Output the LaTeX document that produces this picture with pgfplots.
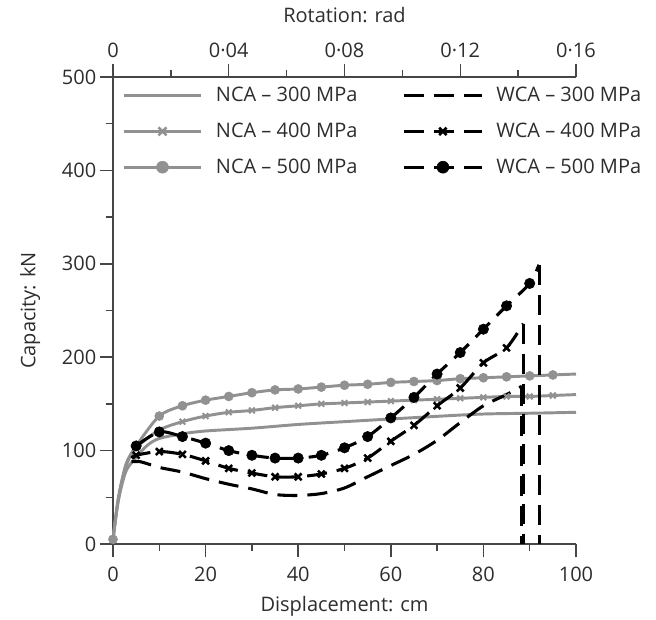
\documentclass[border=0pt]{standalone}
\usepackage{pgfplots}
\pgfplotsset{compat=1.18}
\usepackage{fontspec}
\setmainfont{Open Sans}
\definecolor{ncagray}{RGB}{145,145,145}
\definecolor{axgray}{RGB}{70,70,70}
\definecolor{txt}{RGB}{45,45,45}
\newcommand{\fs}{\fontsize{15}{18}\selectfont}
\begin{document}
\begin{tikzpicture}[font=\fs]
\pgfplotsset{
  every axis/.append style={
    scale only axis, width=347.25pt, height=350.25pt,
    axis line style={axgray, line width=1.1pt},
    every tick/.style={axgray, line width=1.1pt},
    tick align=outside,
    major tick length=10pt, minor tick length=5.5pt,
    tick label style={text=txt, font=\fs},
    label style={text=txt, font=\fs},
    /pgf/number format/assume math mode=true,
  },
  lg/.style={legend image code/.code={\draw[mark repeat=2,mark phase=2,##1] plot coordinates {(0pt,0pt) (29pt,0pt) (58pt,0pt)};}},
}
\tikzset{
  nca/.style={ncagray, line width=2.2pt, solid},
  wca/.style={black, line width=2.3pt, dash pattern=on 15pt off 7.5pt},
  ncax/.style={mark=x, mark size=3pt, mark options={solid, line width=1.5pt}},
  ncao/.style={mark=*, mark size=3.4pt, mark options={solid, line width=0.4pt}},
  wcax/.style={mark=x, mark size=3.6pt, mark options={solid, line width=1.9pt}},
  wcao/.style={mark=*, mark size=3.9pt, mark options={solid, line width=0.4pt}},
}
% top axis (rotation)
\begin{axis}[
  xmin=0, xmax=0.16, ymin=0, ymax=500,
  axis x line*=top, axis y line=none,
  xtick={0,0.04,0.08,0.12,0.16},
  minor xtick={0.02,0.06,0.10,0.14},
  xticklabels={0,0·04,0·08,0·12,0·16},
  xticklabel style={yshift=1pt},
  xlabel={Rotation: rad},
  xlabel style={at={(axis description cs:0.5,1.1335)}, anchor=center},
]
\end{axis}
% main axis
\begin{axis}[
  xmin=0, xmax=100, ymin=0, ymax=500,
  axis x line*=bottom, axis y line*=left,
  xtick={0,20,40,60,80,100}, minor xtick={10,30,50,70,90},
  ytick={0,100,200,300,400,500}, minor ytick={50,150,250,350,450},
  xticklabel style={yshift=-4pt},
  yticklabel style={xshift=1pt},
  xlabel={Displacement: cm}, ylabel={Capacity: kN},
  xlabel style={at={(axis description cs:0.5,-0.1328)}, anchor=center},
  ylabel style={at={(axis description cs:-0.1786,0.5)}, anchor=center},
  clip=false,
  legend columns=2,
  legend cell align=left,
  legend style={draw=none, fill=none, at={(axis description cs:0.011,0.99)}, anchor=north west,
    font=\fs, text=txt, row sep=10.5pt,
    /tikz/every odd column/.append style={column sep=8pt},
    /tikz/every even column/.append style={column sep=32pt}},
  lg,
]
\addlegendimage{nca}
\addlegendentry{NCA – 300 MPa}
\addlegendimage{wca}
\addlegendentry{WCA – 300 MPa}
\addlegendimage{nca, mark=x, mark size=4.3pt, mark options={solid, line width=1.8pt}}
\addlegendentry{NCA – 400 MPa}
\addlegendimage{wca, mark=x, mark size=3.9pt, mark options={solid, line width=2pt}}
\addlegendentry{WCA – 400 MPa}
\addlegendimage{nca, mark=*, mark size=4.5pt, mark options={solid, line width=0.4pt}}
\addlegendentry{NCA – 500 MPa}
\addlegendimage{wca, mark=*, mark size=4.5pt, mark options={solid, line width=0.4pt}}
\addlegendentry{WCA – 500 MPa}

% NCA 300
\addplot[nca, smooth, forget plot] coordinates {
(0,5) (1,42) (2,65) (3,80) (5,93) (7.5,106) (10,113) (15,118) (20,121) (30,124) (40,128) (50,131) (64,135) (79,139) (90,140) (100,141)};
% NCA 400
\addplot[nca, smooth, forget plot, ncax,
  mark indices={1,5,6,7,8,9,10,11,12,13,14,15,16,17,18,19,20,21,22,23}] coordinates {
(0,5) (1,43) (2,68) (3,86) (5,103) (10,122) (15,131) (20,137) (25,141) (30,143) (35,146) (40,148) (45,150) (50,151) (55,152) (60,153) (65,154) (70,155) (75,156) (80,157) (85,158) (90,158) (95,159) (100,160)};
% NCA 500
\addplot[nca, smooth, forget plot, ncao,
  mark indices={1,5,6,7,8,9,10,11,12,13,14,15,16,17,18,19,20,21,22,23}] coordinates {
(0,5) (1,45) (2,70) (3,88) (5,105) (10,137) (15,148) (20,154) (25,158) (30,162) (35,165) (40,166) (45,168) (50,170) (55,171) (60,173) (65,174) (70,175) (75,177) (80,178) (85,179) (90,180) (95,181) (100,182)};

% WCA 300
\addplot[wca, smooth, forget plot] coordinates {
(4,88) (6,88) (10,82) (15,77) (20,70) (25,64) (30,59) (35,53) (40,52) (45,54) (50,60) (55,72) (60,84) (65,96) (70,111) (75,130) (80,148) (85,160) (88.3,169)};
\addplot[wca, forget plot] coordinates {(88.3,169) (88.3,0)};
% WCA 400
\addplot[wca, smooth, forget plot, wcax,
  mark indices={2,3,4,5,6,7,8,9,10,11,12,13,14,15,16,17,18}] coordinates {
(4,92) (5,95) (10,99) (15,96) (20,89) (25,81) (30,76) (35,72) (40,72) (45,75) (50,81) (55,92) (60,110) (65,127) (70,148) (75,167) (80,194) (85,210) (88.6,236)};
\addplot[wca, forget plot] coordinates {(88.6,236) (88.6,0)};
% WCA 500
\addplot[wca, smooth, forget plot, wcao,
  mark indices={1,2,3,4,5,6,7,8,9,10,11,12,13,14,15,16,17,18}] coordinates {
(5,105) (10,120) (15,115) (20,108) (25,100) (30,95) (35,92) (40,92) (45,95) (50,103) (55,115) (60,135) (65,157) (70,182) (75,205) (80,230) (85,255) (90,279) (92,299)};
\addplot[wca, forget plot] coordinates {(92.1,299) (92.1,0)};
\end{axis}
\pgfresetboundingbox
\path (-84.75pt,-56.25pt) rectangle (407.25pt,408pt);
\end{tikzpicture}
\end{document}
